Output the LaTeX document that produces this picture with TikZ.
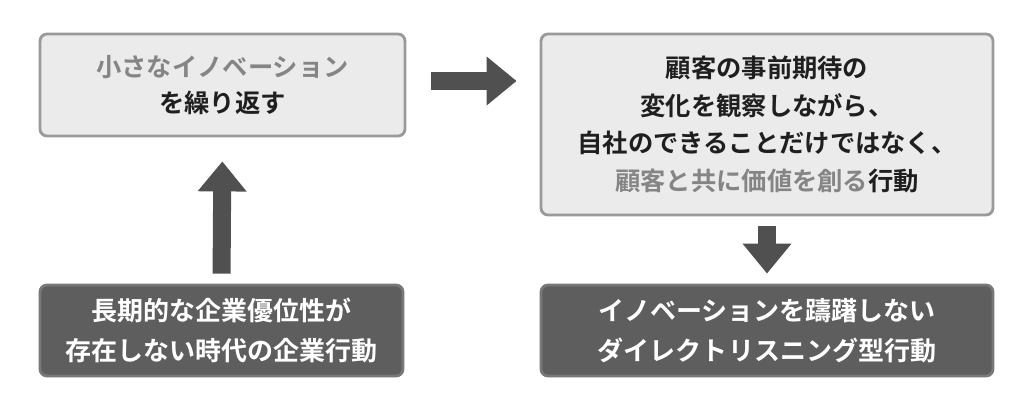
\documentclass[tikz,border=0pt]{standalone}
\usepackage{fontspec}
\usepackage{xcolor}
\usetikzlibrary{arrows.meta}
\newfontfamily\jpfont[BoldFont={Noto Sans CJK JP Bold}]{Noto Sans CJK JP}

\definecolor{lightfill}{HTML}{EBEBEB}
\definecolor{lightedge}{HTML}{9A9A9A}
\definecolor{darkfill}{HTML}{5E5E5E}
\definecolor{darkedge}{HTML}{787878}
\definecolor{arrowgray}{HTML}{505050}
\definecolor{softtext}{HTML}{858585}

\begin{document}
\begin{tikzpicture}[
    lightbox/.style={draw=lightedge, fill=lightfill, rounded corners=2pt, line width=0.8pt,
      align=center, text=black!88, inner sep=0pt,
      font=\jpfont\bfseries\fontsize{7.2pt}{10.4pt}\selectfont},
    darkbox/.style={draw=darkedge, fill=darkfill, rounded corners=2pt, line width=0.8pt,
      align=center, text=white, inner sep=0pt,
      font=\jpfont\bfseries\fontsize{7.4pt}{11.4pt}\selectfont},
    fatarrow/.style={draw=arrowgray, line width=0.18cm,
      -{Triangle[width=0.47cm,length=0.3cm]}}
  ]
  \useasboundingbox (0,0) rectangle (10.2,4.04);
  % top row
  \node[lightbox, minimum width=3.65cm, minimum height=1.02cm] (repeat) at (2.225,3.19)
    {\textcolor{softtext}{小さなイノベーション}\\を繰り返す};
  \node[lightbox, minimum width=4.52cm, minimum height=1.81cm,
    font=\jpfont\bfseries\fontsize{7.2pt}{10.7pt}\selectfont] (customer) at (7.67,2.795)
    {顧客の事前期待の\\変化を観察しながら、\\自社のできることだけではなく、\\\textcolor{softtext}{顧客と共に価値を創る}行動};
  % bottom row
  \node[darkbox, minimum width=3.63cm, minimum height=0.91cm] (oldway) at (2.215,0.735)
    {長期的な企業優位性が\\存在しない時代の企業行動};
  \node[darkbox, minimum width=4.52cm, minimum height=0.91cm] (listening) at (7.67,0.735)
    {イノベーションを躊躇しない\\ダイレクトリスニング型行動};
  % arrows
  \draw[fatarrow, shorten <=0.25cm, shorten >=0.23cm]
    ([yshift=0.04cm]repeat.east) -- ([yshift=0.04cm]repeat.east -| customer.west);
  \draw[fatarrow, shorten <=0.1cm, shorten >=0.24cm] (oldway.north) -- (repeat.south);
  \draw[fatarrow, shorten <=0.1cm, shorten >=0.1cm] (customer.south) -- (listening.north);
\end{tikzpicture}
\end{document}
